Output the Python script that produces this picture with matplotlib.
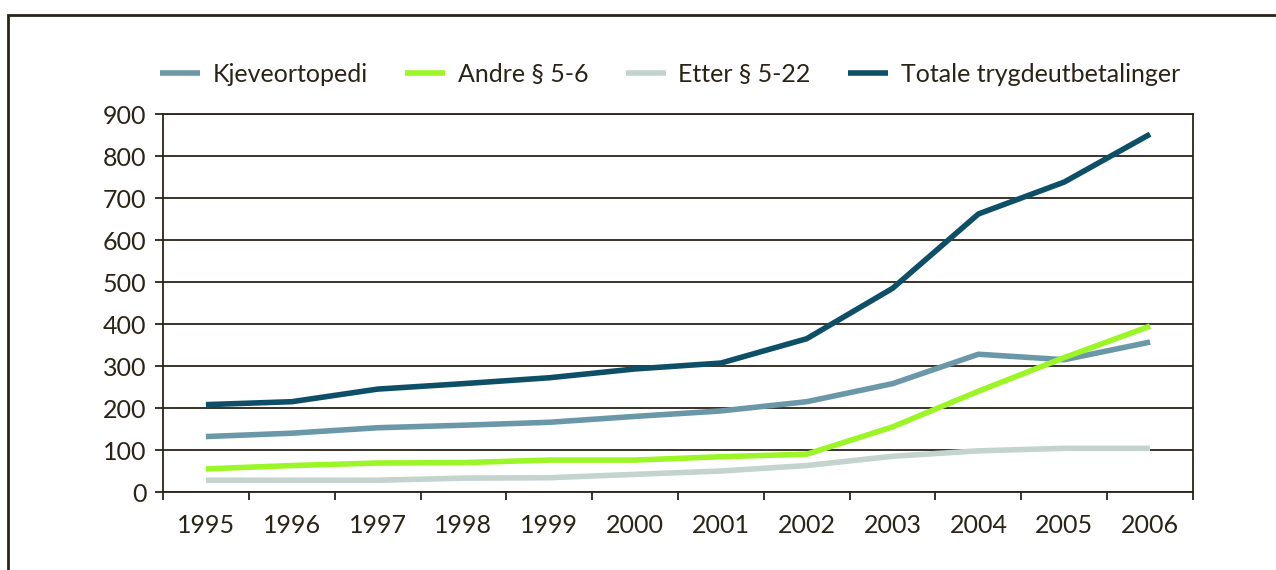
import matplotlib.pyplot as plt
from matplotlib.patches import Rectangle

years = ["1995", "1996", "1997", "1998", "1999", "2000",
         "2001", "2002", "2003", "2004", "2005", "2006"]
kjeveortopedi = [132, 140, 153, 159, 166, 180, 193, 215, 258, 328, 315, 357]
andre = [55, 63, 69, 70, 76, 76, 84, 90, 155, 240, 320, 395]
etter = [28, 28, 28, 33, 34, 42, 50, 63, 85, 98, 104, 104]
totale = [208, 215, 245, 258, 272, 293, 307, 365, 485, 662, 738, 852]

series = [
    ("Kjeveortopedi", kjeveortopedi, "#6a98a8"),
    ("Andre § 5-6", andre, "#9cf527"),
    ("Etter § 5-22", etter, "#c3d3ce"),
    ("Totale trygdeutbetalinger", totale, "#0d4f66"),
]

plt.rcParams['font.family'] = ['Lato', 'DejaVu Sans']
ink = "#2a2418"

fig = plt.figure(figsize=(12.76, 5.70), dpi=100)
ax = fig.add_axes([163/1276, 1 - 492/570, (1193-163)/1276, (492-114)/570])

x = list(range(len(years)))
for name, vals, col in series:
    ax.plot(x, vals, color=col, lw=4, label=name, solid_capstyle='butt')

ax.set_xlim(-0.5, 11.5)
ax.set_ylim(0, 900)
ax.set_yticks(range(0, 1000, 100))
ax.set_xticks(x)
ax.set_xticklabels(years)
ax.set_xticks([i - 0.5 for i in range(13)], minor=True)
ax.tick_params(axis='x', which='major', length=0, pad=16, labelsize=18, colors=ink)
ax.tick_params(axis='x', which='minor', length=6, width=1.3, color=ink)
ax.tick_params(axis='y', length=6, width=1.3, pad=6, labelsize=18, colors=ink)
ax.yaxis.grid(True, color=ink, lw=1.3)
ax.set_axisbelow(True)
for sp in ax.spines.values():
    sp.set_color(ink)
    sp.set_linewidth(1.3)

fig.legend(loc='center', bbox_to_anchor=(0.525, 1 - 74/570), ncol=4,
           frameon=False, fontsize=18, handlelength=1.6, columnspacing=1.5,
           handletextpad=0.5, labelcolor=ink)

fig.patches.append(Rectangle((8/1276, -0.05), 1.1, 1.05 - 15/570,
                             transform=fig.transFigure, fill=False,
                             edgecolor=ink, lw=2))

fig.savefig("out.png", dpi=100)
